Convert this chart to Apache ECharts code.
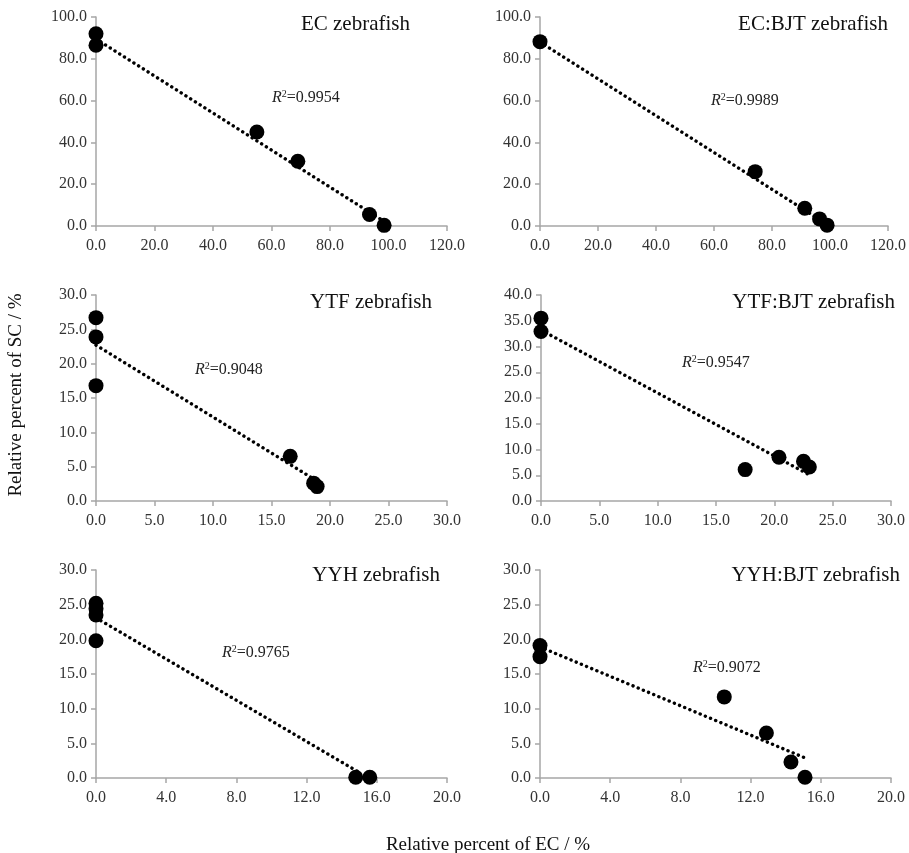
<!DOCTYPE html>
<html>
<head>
<meta charset="utf-8">
<script src="https://cdn.jsdelivr.net/npm/echarts@6/dist/echarts.min.js"></script>
<style>
  html, body { margin: 0; padding: 0; background: #fff; }
  #chart { width: 909px; height: 853px; }
</style>
</head>
<body>
<div id="chart"></div>
<script>
// panel titles and R2 values
const panelNames = ['EC zebrafish', 'EC:BJT zebrafish', 'YTF zebrafish', 'YTF:BJT zebrafish', 'YYH zebrafish', 'YYH:BJT zebrafish']
const r2Values = ['0.9954', '0.9989', '0.9048', '0.9547', '0.9765', '0.9072']

// measured points (x = EC %, y = SC %)
const ecX = [0, 0, 55, 69, 93.5, 98.5]
const ecY = [92, 86.5, 45, 31, 5.5, 0.3]
const ecBjtX = [0, 74.2, 91.3, 96.4, 99]
const ecBjtY = [88.2, 26, 8.5, 3.4, 0.4]
const ytfX = [0, 0, 0, 16.6, 18.6, 18.9]
const ytfY = [26.7, 23.9, 16.8, 6.5, 2.6, 2.1]
const ytfBjtX = [0, 0, 17.5, 20.4, 22.5, 23.0]
const ytfBjtY = [35.5, 32.9, 6.1, 8.5, 7.7, 6.6]
const yyhX = [0, 0, 0, 0, 14.8, 15.6]
const yyhY = [25.2, 24.4, 23.5, 19.8, 0.1, 0.1]
const yyhBjtX = [0, 0, 10.5, 12.9, 14.3, 15.1]
const yyhBjtY = [19.1, 17.5, 11.7, 6.5, 2.3, 0.1]

// trend line ends
const ecTrendX = [0, 98.5]
const ecTrendY = [89.5, 2.2]
const ecBjtTrendX = [0, 99]
const ecBjtTrendY = [88, 0.8]
const ytfTrendX = [0, 18.9]
const ytfTrendY = [22.7, 2.9]
const ytfBjtTrendX = [0, 22.9]
const ytfBjtTrendY = [33.2, 5.2]
const yyhTrendX = [0, 15.0]
const yyhTrendY = [23.1, 0.8]
const yyhBjtTrendX = [0, 15.1]
const yyhBjtTrendY = [18.9, 2.9]

// axis ranges: [max, interval]
const xRanges = [[120, 20], [120, 20], [30, 5], [30, 5], [20, 4], [20, 4]]
const yRanges = [[100, 20], [100, 20], [30, 5], [40, 5], [30, 5], [30, 5]]

const pointsX = [ecX, ecBjtX, ytfX, ytfBjtX, yyhX, yyhBjtX]
const pointsY = [ecY, ecBjtY, ytfY, ytfBjtY, yyhY, yyhBjtY]
const trendX = [ecTrendX, ecBjtTrendX, ytfTrendX, ytfBjtTrendX, yyhTrendX, yyhBjtTrendX]
const trendY = [ecTrendY, ecBjtTrendY, ytfTrendY, ytfBjtTrendY, yyhTrendY, yyhBjtTrendY]

const serif = '"Liberation Serif", "Times New Roman", serif'

// grid boxes in px
const grids = [
  { left: 96, top: 17, width: 351, height: 209 },
  { left: 540, top: 17, width: 349, height: 209 },
  { left: 96, top: 295, width: 351, height: 206 },
  { left: 541, top: 295, width: 350, height: 206 },
  { left: 96, top: 570, width: 351, height: 208 },
  { left: 540, top: 570, width: 351, height: 208 }
]
// title right edge / middle y, R2 left edge / middle y
const titlePos = [[410, 24], [888, 24], [432, 302], [895, 302], [440, 575], [900, 575]]
const r2Pos = [[272, 98], [711, 101], [195, 370], [682, 363], [222, 653], [693, 668]]

const axisLine = { lineStyle: { color: '#a6a6a6', width: 1.5 } }
const axisTick = { length: 5, lineStyle: { color: '#a6a6a6', width: 1.5 } }
const axisLabel = { color: '#333', fontFamily: serif, fontSize: 16, formatter: v => v.toFixed(1) }

const xAxis = []
const yAxis = []
const series = []
const graphic = []

for (let i = 0; i < 6; i++) {
  xAxis.push({
    type: 'value', gridIndex: i, min: 0, max: xRanges[i][0], interval: xRanges[i][1],
    splitLine: { show: false }, axisLine: axisLine, axisTick: axisTick,
    axisLabel: Object.assign({ margin: 12 }, axisLabel)
  })
  yAxis.push({
    type: 'value', gridIndex: i, min: 0, max: yRanges[i][0], interval: yRanges[i][1],
    splitLine: { show: false }, axisLine: Object.assign({ show: true }, axisLine),
    axisTick: Object.assign({ show: true }, axisTick),
    axisLabel: Object.assign({ margin: 9 }, axisLabel)
  })
  series.push({
    type: 'scatter', xAxisIndex: i, yAxisIndex: i, symbolSize: 15,
    itemStyle: { color: '#000', opacity: 1 }, clip: false,
    data: pointsX[i].map((x, k) => [x, pointsY[i][k]])
  })
  series.push({
    type: 'line', xAxisIndex: i, yAxisIndex: i, symbol: 'none', silent: true,
    lineStyle: { color: '#000', width: 3.4, type: [0.1, 5.5], cap: 'round' },
    data: trendX[i].map((x, k) => [x, trendY[i][k]]),
    z: 3
  })
  graphic.push({
    type: 'text', x: titlePos[i][0], y: titlePos[i][1],
    style: { text: panelNames[i], font: '21px ' + serif, fill: '#111', align: 'right', verticalAlign: 'middle' }
  })
  graphic.push({
    type: 'text', x: r2Pos[i][0], y: r2Pos[i][1],
    style: {
      text: '{i|R}{s|2}{n|=' + r2Values[i] + '}',
      align: 'left', verticalAlign: 'middle',
      rich: {
        i: { fontFamily: serif, fontSize: 16, fontStyle: 'italic', fill: '#222' },
        s: { fontFamily: serif, fontSize: 10, fill: '#222', verticalAlign: 'top', padding: [0, 0, 8, 0] },
        n: { fontFamily: serif, fontSize: 16, fill: '#222' }
      }
    }
  })
}

// shared axis titles
graphic.push({
  type: 'text', x: 16, y: 395, rotation: Math.PI / 2,
  style: { text: 'Relative percent of SC / %', font: '19px ' + serif, fill: '#111', align: 'center', verticalAlign: 'middle' }
})
graphic.push({
  type: 'text', x: 488, y: 845,
  style: { text: 'Relative percent of EC / %', font: '19px ' + serif, fill: '#111', align: 'center', verticalAlign: 'middle' }
})

const chart = echarts.init(document.getElementById('chart'))
chart.setOption({
  animation: false,
  backgroundColor: '#fff',
  grid: grids,
  xAxis: xAxis,
  yAxis: yAxis,
  series: series,
  graphic: graphic
})
</script>
</body>
</html>
